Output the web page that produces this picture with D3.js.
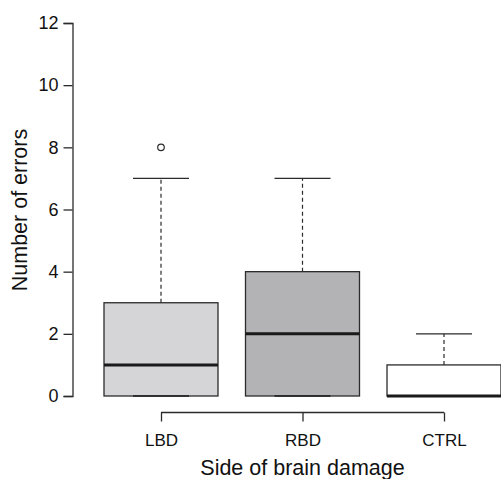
<!DOCTYPE html>
<html>
<head>
<meta charset="utf-8">
<script src="https://cdn.jsdelivr.net/npm/d3@7"></script>
<style>
  body { margin: 0; background: #fff; }
  svg text { font-family: "Liberation Sans", Arial, sans-serif; fill: #111; }
  .yax text { font-size: 18px; }
  .xax text { font-size: 17px; }
</style>
</head>
<body>
<div class="container"></div>
<script>
// box stats
var groups = ["LBD", "RBD", "CTRL"];
var lowWhisker = [0, 0, 0];
var q1 = [0, 0, 0];
var medians = [1, 2, 0];
var q3 = [3, 4, 1];
var highWhisker = [7, 7, 2];
var outliers = [[8], [], []];
var fills = ["#d5d5d7", "#b3b3b5", "#ffffff"];
var yTicks = [0, 2, 4, 6, 8, 10, 12];

var width = 501, height = 479;

var svg = d3.select(".container")
    .append("svg")
    .attr("width", width)
    .attr("height", height);

var x = d3.scalePoint()
    .domain(groups)
    .range([161, 444]);

var y = d3.scaleLinear()
    .domain([0, 12])
    .range([396, 23]);

var boxW = 114;
var capW = 56;
var ink = "#2b2b2b";

// y axis
var yAxis = svg.append("g")
    .attr("class", "yax")
    .attr("transform", "translate(72.5,0)")
    .call(d3.axisLeft(y).tickValues(yTicks).tickSize(9).tickPadding(5));
yAxis.attr("font-size", 18).attr("font-family", "Liberation Sans, Arial, sans-serif");
yAxis.select(".domain").attr("stroke", ink).attr("stroke-width", 1.3);
yAxis.selectAll(".tick line").attr("stroke", ink).attr("stroke-width", 1.3);
yAxis.selectAll(".tick text").attr("fill", "#111");

// x axis (R style: runs from first to last category)
var xAxis = svg.append("g")
    .attr("class", "xax")
    .attr("transform", "translate(0,412.5)")
    .call(d3.axisBottom(x).tickSize(9).tickSizeOuter(0).tickPadding(12));
xAxis.attr("font-size", 17).attr("font-family", "Liberation Sans, Arial, sans-serif");
xAxis.select(".domain").attr("d", "M" + x("LBD") + ",0H" + x("CTRL"))
    .attr("stroke", ink).attr("stroke-width", 1.3);
xAxis.selectAll(".tick line").attr("stroke", ink).attr("stroke-width", 1.3);
xAxis.selectAll(".tick text").attr("fill", "#111");

var boxes = svg.selectAll(".box")
    .data(groups)
    .enter()
    .append("g")
    .attr("class", "box");

// whiskers
boxes.append("line")
    .attr("x1", function(d) { return x(d); })
    .attr("x2", function(d) { return x(d); })
    .attr("y1", function(d, i) { return y(q3[i]); })
    .attr("y2", function(d, i) { return y(highWhisker[i]); })
    .attr("stroke", ink)
    .attr("stroke-width", 1.2)
    .attr("stroke-dasharray", "4,3");

boxes.append("line")
    .attr("x1", function(d) { return x(d) - capW / 2; })
    .attr("x2", function(d) { return x(d) + capW / 2; })
    .attr("y1", function(d, i) { return y(highWhisker[i]); })
    .attr("y2", function(d, i) { return y(highWhisker[i]); })
    .attr("stroke", ink)
    .attr("stroke-width", 1.3);

// box
boxes.append("rect")
    .attr("x", function(d) { return x(d) - boxW / 2; })
    .attr("width", boxW)
    .attr("y", function(d, i) { return y(q3[i]); })
    .attr("height", function(d, i) { return y(q1[i]) - y(q3[i]); })
    .attr("fill", function(d, i) { return fills[i]; })
    .attr("stroke", ink)
    .attr("stroke-width", 1.3);

// lower cap (sits on box bottom here)
boxes.append("line")
    .attr("x1", function(d) { return x(d) - capW / 2; })
    .attr("x2", function(d) { return x(d) + capW / 2; })
    .attr("y1", function(d, i) { return y(lowWhisker[i]); })
    .attr("y2", function(d, i) { return y(lowWhisker[i]); })
    .attr("stroke", "#1e1e1e")
    .attr("stroke-width", 1.6);

// median
boxes.append("line")
    .attr("x1", function(d) { return x(d) - boxW / 2; })
    .attr("x2", function(d) { return x(d) + boxW / 2; })
    .attr("y1", function(d, i) { return y(medians[i]); })
    .attr("y2", function(d, i) { return y(medians[i]); })
    .attr("stroke", "#1a1a1a")
    .attr("stroke-width", 3);

// outliers
boxes.each(function(d, i) {
    d3.select(this).selectAll("circle")
        .data(outliers[i])
        .enter()
        .append("circle")
        .attr("cx", x(d))
        .attr("cy", function(v) { return y(v); })
        .attr("r", 3.3)
        .attr("fill", "none")
        .attr("stroke", ink)
        .attr("stroke-width", 1.2);
});

// axis titles
svg.append("text")
    .attr("x", 302.5)
    .attr("y", 475)
    .attr("text-anchor", "middle")
    .style("font-size", "21.5px")
    .text("Side of brain damage");

svg.append("text")
    .attr("transform", "translate(27,210) rotate(-90)")
    .attr("text-anchor", "middle")
    .style("font-size", "21.5px")
    .text("Number of errors");
</script>
</body>
</html>
